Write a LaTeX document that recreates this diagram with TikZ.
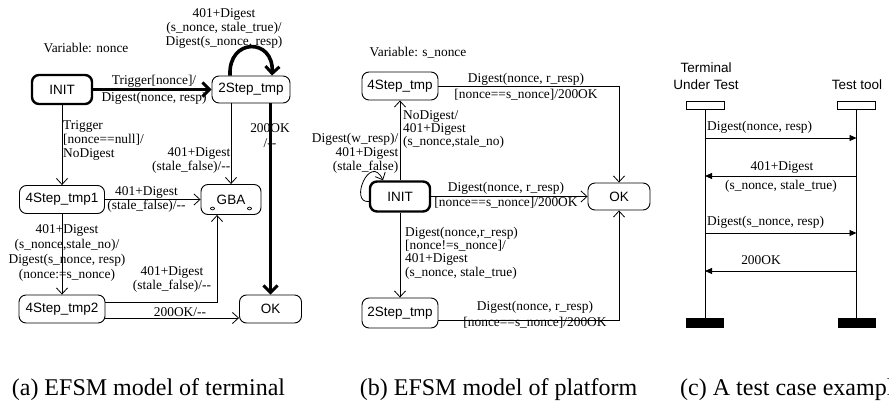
\documentclass[tikz,border=0pt]{standalone}
\usepackage{fontspec}
\setmainfont{Liberation Serif}
\setsansfont{Liberation Sans}
\usetikzlibrary{arrows.meta}
\begin{document}
\begin{tikzpicture}[x=1pt,y=-1pt,
  st/.style={draw,rounded corners=7pt,line width=0.9pt,inner sep=0pt,
    font=\sffamily\fontsize{13.5}{15}\selectfont},
  initst/.style={st,line width=2.4pt},
  lbl/.style={inner sep=0pt,font=\fontsize{13.4}{14}\selectfont},
  arr/.style={line width=0.8pt,-{Straight Barb[length=6pt,width=11pt,line width=0.8pt]}},
  tharr/.style={line width=3.6pt,-{Straight Barb[length=7pt,width=14pt,line width=3pt]}},
  msg/.style={line width=0.8pt,-{Triangle[length=7pt,width=6pt]}},
  lifebox/.style={draw,line width=0.8pt,minimum width=38pt,minimum height=8pt,inner sep=0pt},
  lifeend/.style={fill=black,minimum width=38pt,minimum height=10pt,inner sep=0pt},
  hdr/.style={inner sep=0pt,font=\sffamily\fontsize{13.5}{17}\selectfont,align=center},
  captxt/.style={inner sep=0pt,anchor=base,font=\fontsize{24}{28}\selectfont}]
\useasboundingbox (0,0) rectangle (889,403);

% ---------------- (a) terminal ----------------
\node[lbl] (vara) at (86,48) {Variable: nonce};
\node[initst,minimum width=60pt,minimum height=29pt] (ainit) at (62,89.5) {INIT};
\node[st,minimum width=78pt,minimum height=27pt] (atwo) at (251,89.5) {2Step\_tmp};
\node[st,minimum width=85pt,minimum height=28pt] (afour1) at (62,199.5) {4Step\_tmp1};
\node[st,minimum width=60pt,minimum height=30pt] (agba) at (231,199.5) {GBA};
\node[st,minimum width=86pt,minimum height=28pt] (afour2) at (62,309) {4Step\_tmp2};
\node[st,minimum width=62pt,minimum height=28pt] (aok) at (270.5,309) {OK};
\draw[line width=0.7pt] ([xshift=-18.5pt,yshift=-9pt]agba.center) ellipse (2pt and 1.4pt);
\draw[line width=0.7pt] ([xshift=18.5pt,yshift=-9pt]agba.center) ellipse (2pt and 1.4pt);

\draw[tharr] (ainit) -- (atwo);
\draw[tharr] ([xshift=-21pt]atwo.north) .. controls ([xshift=-23pt,yshift=38pt]atwo.north)
  and ([xshift=23pt,yshift=38pt]atwo.north) .. ([xshift=21pt]atwo.north);
\draw[tharr] ([xshift=19.5pt]atwo.south) -- (aok.north);
\draw[arr] (ainit) -- (afour1);
\draw[arr] ([xshift=-20pt]atwo.south) -- (agba.north);
\draw[arr] (afour1) -- (agba);
\draw[arr] (afour1) -- (afour2);
\draw[arr] ([yshift=7pt]afour2.east) -| ([xshift=-14pt]agba.south);
\draw[arr] ([yshift=-9pt]afour2.east) -- ([yshift=-9pt]aok.west);

\node[lbl,align=center] (aloop) at (224,28) {401+Digest\\(s\_nonce, stale\_true)/\\Digest(s\_nonce, resp)};
\node[lbl] (atrig1) at (154,81) {Trigger[nonce]/};
\node[lbl] (atrig2) at (154,98) {Digest(nonce, resp)};
\node[lbl,align=left,anchor=west] (atrig3) at (63,140.5) {Trigger\\{}[nonce==null]/\\NoDigest};
\node[lbl,align=right,anchor=east] (agba1) at (230.5,160) {401+Digest\\(stale\_false)/-{}-};
\node[lbl,align=center,font=\fontsize{13.4}{15}\selectfont] (aok1) at (270,135.5) {200OK\\/-{}-};
\node[lbl,align=center,font=\fontsize{13.4}{13.5}\selectfont] (agba2) at (146.5,199.5) {401+Digest\\(stale\_false)/-{}-};
\node[lbl,align=center,font=\fontsize{13.4}{15.3}\selectfont] (astale) at (67,253)
  {401+Digest\\(s\_nonce,stale\_no)/\\Digest(s\_nonce, resp)\\(nonce:=s\_nonce)};
\node[lbl,align=center,font=\fontsize{13.4}{13.5}\selectfont] (agba3) at (172,279.5) {401+Digest\\(stale\_false)/-{}-};
\node[lbl] (aok2) at (180,312) {200OK/-{}-};

% ---------------- (b) platform ----------------
\node[lbl] (varb) at (418,53) {Variable: s\_nonce};
\node[st,minimum width=76pt,minimum height=28pt] (bfour) at (400,86) {4Step\_tmp};
\node[initst,minimum width=60pt,minimum height=30pt] (binit) at (400,196.5) {INIT};
\node[st,minimum width=62pt,minimum height=27pt] (bok) at (619,196.5) {OK};
\node[st,minimum width=76pt,minimum height=30pt] (btwo) at (400,313) {2Step\_tmp};

\draw[arr] (bfour.east) -| (bok.north);
\draw[arr] (binit) -- (bfour);
\draw[arr] ([yshift=-5pt]binit.west) .. controls ([xshift=-20pt,yshift=-7pt]binit.west)
  and ([xshift=-30pt,yshift=28pt]binit.north) .. ([xshift=-17pt]binit.north);
\draw[arr] (binit) -- (bok);
\draw[arr] (binit) -- (btwo);
\draw[arr] ([yshift=-7pt]btwo.east) -| (bok.south);

\node[lbl] (bl1) at (526,79) {Digest(nonce, r\_resp)};
\node[lbl] (bl2) at (526,95) {[nonce==s\_nonce]/200OK};
\node[lbl,align=left,anchor=west,font=\fontsize{13.4}{12.8}\selectfont] (bl3) at (403,129.5)
  {NoDigest/\\401+Digest\\(s\_nonce,stale\_no)};
\node[lbl,align=right,anchor=east] (bl4) at (398.5,153) {Digest(w\_resp)/\\401+Digest\\(stale\_false)};
\node[lbl] (bl5) at (506,188) {Digest(nonce, r\_resp)};
\node[lbl] (bl6) at (506,203) {[nonce==s\_nonce]/200OK};
\node[lbl,align=left,anchor=west,font=\fontsize{13.4}{13.3}\selectfont] (bl7) at (405,253)
  {Digest(nonce,r\_resp)\\{}[nonce!=s\_nonce]/\\401+Digest\\(s\_nonce, stale\_true)};
\node[lbl] (bl8) at (535,307) {Digest(nonce, r\_resp)};
\node[lbl] (bl9) at (535,323) {[nonce==s\_nonce]/200OK};

% ---------------- (c) test case ----------------
\node[hdr] (htut) at (706,76.5) {Terminal\\Under Test};
\node[hdr] (htt) at (857,85) {Test tool};
\node[lifebox] (tut) at (705,105) {};
\node[lifebox] (tt) at (856.5,105) {};
\node[lifeend] (tutend) at (705,323) {};
\node[lifeend] (ttend) at (856.5,323) {};
\draw[line width=0.8pt] (tut) -- (tutend);
\draw[line width=0.8pt] (tt) -- (ttend);
\coordinate (m1a) at (705,138);   \coordinate (m1b) at (856.5,138);
\coordinate (m2a) at (705,176);   \coordinate (m2b) at (856.5,176);
\coordinate (m3a) at (705,233);   \coordinate (m3b) at (856.5,233);
\coordinate (m4a) at (705,271);   \coordinate (m4b) at (856.5,271);
\draw[msg] (m1a) -- (m1b);
\draw[msg] (m2b) -- (m2a);
\draw[msg] (m3a) -- (m3b);
\draw[msg] (m4b) -- (m4a);
\node[lbl,anchor=west] (c1) at (707,127) {Digest(nonce, resp)};
\node[lbl] (c2) at (782,167) {401+Digest};
\node[lbl] (c3) at (781,186) {(s\_nonce, stale\_true)};
\node[lbl,anchor=west] (c4) at (707,222) {Digest(s\_nonce, resp)};
\node[lbl] (c5) at (761,260) {200OK};

% ---------------- captions ----------------
\node[captxt] (capa) at (148.5,395) {(a) EFSM model of terminal};
\node[captxt] (capb) at (498.5,395) {(b) EFSM model of platform};
\node[captxt,anchor=base west] (capc) at (680,395) {(c) A test case example};
\end{tikzpicture}
\end{document}
